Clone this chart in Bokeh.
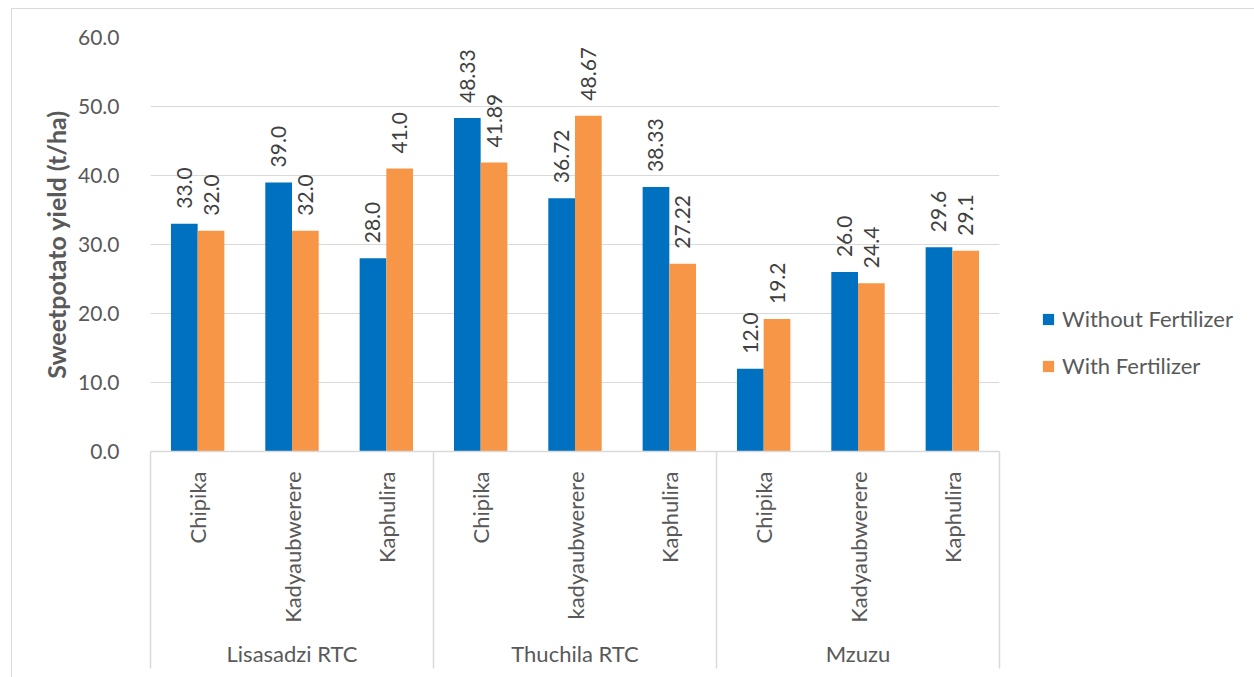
import math

from bokeh.core.properties import value
from bokeh.embed import file_html
from bokeh.models import (ColumnDataSource, FactorRange, FixedTicker, Legend,
                          LegendItem, NumeralTickFormatter, Range1d)
from bokeh.plotting import figure
from bokeh.resources import INLINE
from bokeh.transform import dodge

# ---- data -------------------------------------------------------------
sites = ["Lisasadzi RTC", "Thuchila RTC", "Mzuzu"]
varieties = [
    ["Chipika", "Kadyaubwerere", "Kaphulira"],
    ["Chipika", "kadyaubwerere", "Kaphulira"],
    ["Chipika", "Kadyaubwerere", "Kaphulira"],
]
without_fertilizer = [33.0, 39.0, 28.0, 48.33, 36.72, 38.33, 12.0, 26.0, 29.6]
with_fertilizer = [32.0, 32.0, 41.0, 41.89, 48.67, 27.22, 19.2, 24.4, 29.1]
label_decimals = [1, 2, 1]  # decimals shown on the value labels, per site
series_names = ["Without Fertilizer", "With Fertilizer"]
y_ticks = [0, 10, 20, 30, 40, 50, 60]

# ---- styling ----------------------------------------------------------
FONT = "Lato"
TEXT = "#595959"
GRID = "#d9d9d9"
BLUE = "#0070C0"
ORANGE = "#F79646"
FS = "21px"
FS_CAT = "22px"

factors = [(s, v) for s, vs in zip(sites, varieties) for v in vs]
decimals = [d for d, vs in zip(label_decimals, varieties) for _ in vs]

src = ColumnDataSource(dict(
    x=factors,
    without=without_fertilizer,
    withf=with_fertilizer,
    lab_without=[f"{v:.{d}f}" for v, d in zip(without_fertilizer, decimals)],
    lab_with=[f"{v:.{d}f}" for v, d in zip(with_fertilizer, decimals)],
))

FRAME_W, FRAME_H = 849, 414
p = figure(
    x_range=FactorRange(*factors, group_padding=0, factor_padding=0,
                        subgroup_padding=0, range_padding=0),
    y_range=Range1d(y_ticks[0], y_ticks[-1]),
    frame_width=FRAME_W, frame_height=FRAME_H,
    min_border_left=138, min_border_right=0,
    min_border_top=28, min_border_bottom=226,
    output_backend="svg", toolbar_location=None,
    styles={"margin-left": "11px", "margin-top": "8px",
            "border-left": f"1px solid {GRID}", "border-top": f"1px solid {GRID}"},
)
p.outline_line_color = None
p.background_fill_color = "white"

# y axis
ya = p.yaxis[0]
ya.ticker = FixedTicker(ticks=y_ticks)
ya.formatter = NumeralTickFormatter(format="0.0")
ya.axis_line_color = None
ya.major_tick_line_color = None
ya.minor_tick_line_color = None
ya.major_label_standoff = 25
ya.major_label_text_font = FONT
ya.major_label_text_font_size = FS
ya.major_label_text_color = TEXT
ya.axis_label = "Sweetpotato yield (t/ha)"
ya.axis_label_text_font = FONT
ya.axis_label_text_font_size = "25px"
ya.axis_label_text_font_style = "bold"
ya.axis_label_text_color = TEXT
ya.axis_label_standoff = 4

p.ygrid.grid_line_color = GRID
p.xgrid.grid_line_color = None

# category axis
xa = p.xaxis[0]
xa.axis_line_color = GRID
xa.axis_line_width = 1.5
xa.major_tick_line_color = None
xa.minor_tick_line_color = None
xa.major_label_orientation = math.pi / 2
xa.major_label_standoff = 14
xa.major_label_text_font = FONT
xa.major_label_text_font_size = FS_CAT
xa.major_label_text_color = TEXT
xa.group_text_font = FONT
xa.group_text_font_size = FS_CAT
xa.group_text_color = TEXT
xa.group_text_font_style = "normal"
xa.separator_line_color = None

# bars
BAR_W = 0.283
r_without = p.vbar(x=dodge("x", -BAR_W / 2, range=p.x_range), top="without",
                   width=BAR_W, source=src, fill_color=BLUE, line_color=None)
r_with = p.vbar(x=dodge("x", BAR_W / 2, range=p.x_range), top="withf",
                width=BAR_W, source=src, fill_color=ORANGE, line_color=None)

# value labels
for off, col, lab in [(-BAR_W / 2, "without", "lab_without"),
                      (BAR_W / 2, "withf", "lab_with")]:
    p.text(x=dodge("x", off, range=p.x_range), y=col, text=lab, source=src,
           angle=math.pi / 2, text_align="left", text_baseline="middle",
           y_offset=-15, text_font=value(FONT), text_font_size=FS,
           text_color="#404040")

# group boxes below the category axis
bounds = [0]
for vs in varieties:
    bounds.append(bounds[-1] + len(vs))
units_per_px = (y_ticks[-1] - y_ticks[0]) / FRAME_H
p.segment(x0=bounds, y0=0, x1=bounds, y1=-217 * units_per_px,
          line_color=GRID, line_width=1.5, level="overlay")

# legend, in the right-hand panel
legend = Legend(
    items=[LegendItem(label=series_names[0], renderers=[r_without]),
           LegendItem(label=series_names[1], renderers=[r_with])],
    location=(42, 72),
    glyph_width=14, glyph_height=14, label_standoff=7, spacing=20,
    padding=0, margin=0, border_line_color=None, background_fill_alpha=0,
    label_text_font=FONT, label_text_font_size="22px", label_text_color=TEXT,
)
p.add_layout(legend, "right")

open("out.html", "w").write(file_html(p, INLINE))
